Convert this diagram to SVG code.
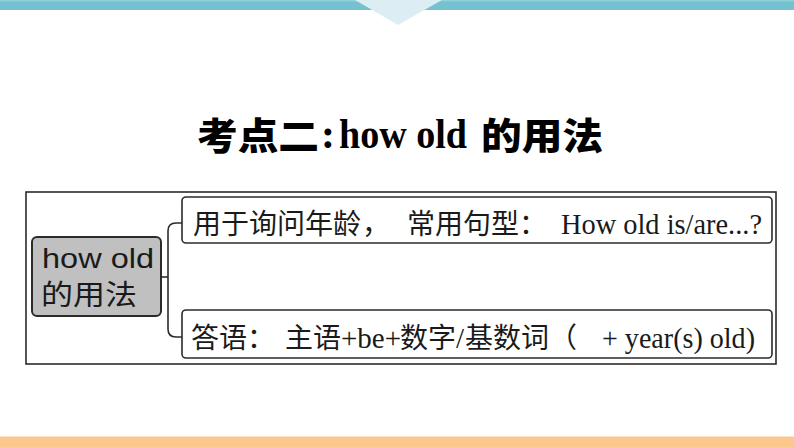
<svg xmlns="http://www.w3.org/2000/svg" width="794" height="447" viewBox="0 0 794 447">
<style>
.frame{fill:none;stroke:#2b2b2b;stroke-width:1.6}
.box{fill:#ffffff;stroke:#2b2b2b;stroke-width:1.6}
.root{fill:#c0c0c0;stroke:#2b2b2b;stroke-width:2}
.conn{fill:none;stroke:#2b2b2b;stroke-width:1.6}
.cjk{font-family:"Noto Sans CJK SC","Liberation Sans",sans-serif;font-size:28px;fill:#1a1a1a}
.lat{font-family:"Liberation Serif","Noto Sans CJK SC",serif;font-size:29px;fill:#1a1a1a}
.rt{font-family:"Liberation Sans","Noto Sans CJK SC",sans-serif;font-size:28px;fill:#1a1a1a}
.tc{font-family:"Noto Sans CJK SC",sans-serif;font-size:37px;font-weight:900;fill:#000}
.tl{font-family:"Liberation Serif",serif;font-size:42px;font-weight:bold;fill:#000}
</style>
<g id="decor">
<rect x="0" y="0" width="794" height="10" fill="#74c1cf"/>
<rect x="0" y="0" width="794" height="1.5" fill="#8fd0db"/>
<polygon points="355,0 442,0 398,25" fill="#dcedf4"/>
<rect x="0" y="436" width="794" height="1" fill="#fde3c6"/>
<rect x="0" y="437" width="794" height="10" fill="#fcc78f"/>
</g>
<g id="title">
<text class="tc" x="197" y="150" textLength="122" lengthAdjust="spacingAndGlyphs">考点二</text>
<text class="tl" x="321" y="148">:</text>
<text class="tl" x="339" y="148" textLength="128" lengthAdjust="spacingAndGlyphs">how old</text>
<text class="tc" x="481" y="150" textLength="122" lengthAdjust="spacingAndGlyphs">的用法</text>
</g>
<g id="frame">
<rect class="frame" x="26" y="192" width="750" height="172"/>
</g>
<g id="connectors">
<path class="conn" d="M161,277 H168"/>
<path class="conn" d="M182,223 H176 Q168,223 168,231 V329 Q168,337 176,337 H182"/>
</g>
<g id="root">
<rect class="root" x="32" y="237" width="129" height="79" rx="5"/>
<text class="rt" x="42" y="268" textLength="112" lengthAdjust="spacingAndGlyphs">how old</text>
<text class="rt" x="41" y="305" font-size="30" textLength="96" lengthAdjust="spacingAndGlyphs">的用法</text>
</g>
<g id="node-question">
<rect class="box" x="182" y="197" width="590" height="46" rx="4"/>
<text class="cjk" x="193" y="234">用于询问年龄</text>
<text class="cjk" x="362" y="234">，</text>
<text class="cjk" x="407" y="234">常用句型</text>
<text class="cjk" x="519" y="234">：</text>
<text class="lat" x="561" y="234" textLength="201" lengthAdjust="spacingAndGlyphs">How old is/are...?</text>
</g>
<g id="node-answer">
<rect class="box" x="182" y="310" width="590" height="48" rx="4"/>
<text class="cjk" x="191" y="348">答语</text>
<text class="cjk" x="247" y="348">：</text>
<text class="cjk" x="285" y="348">主语</text>
<text class="lat" x="341" y="348">+be+</text>
<text class="cjk" x="400" y="348">数字</text>
<text class="lat" x="456" y="348">/</text>
<text class="cjk" x="465" y="348">基数词</text>
<text class="cjk" x="549" y="348">（</text>
<text class="lat" x="602" y="348" textLength="153" lengthAdjust="spacingAndGlyphs">+ year(s) old)</text>
</g>
</svg>
